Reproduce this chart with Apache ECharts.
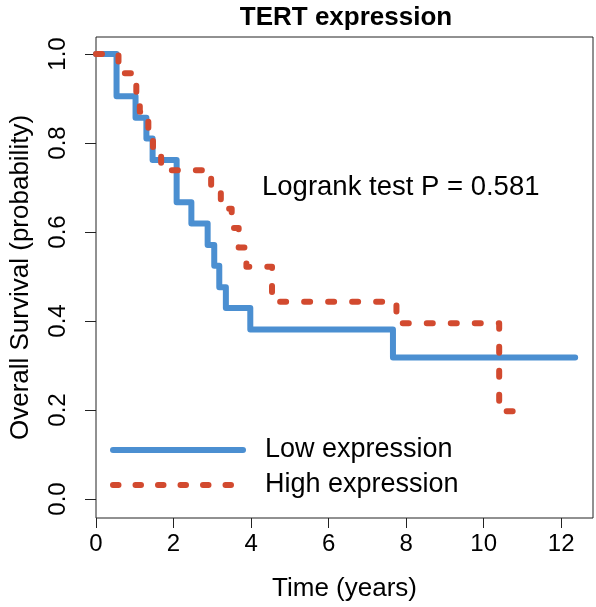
<!DOCTYPE html>
<html>
<head>
<meta charset="utf-8">
<script src="https://cdn.jsdelivr.net/npm/echarts@6/dist/echarts.min.js"></script>
<style>
html,body{margin:0;padding:0;background:#fff;}
#chart{width:596px;height:607px;}
</style>
</head>
<body>
<div id="chart"></div>
<script>
// Data (Kaplan-Meier step points: time in years, survival probability)
const lowTimes = [0, 0.53, 1.02, 1.30, 1.46, 2.08, 2.46, 2.88, 3.05, 3.18, 3.35, 3.98, 7.66, 12.36];
const lowSurv  = [1.0, 0.905, 0.857, 0.810, 0.762, 0.667, 0.619, 0.571, 0.524, 0.476, 0.429, 0.381, 0.318, 0.318];
const highTimes = [0, 0.58, 1.04, 1.13, 1.35, 1.47, 1.68, 2.97, 3.22, 3.50, 3.68, 3.88, 4.54, 7.75, 10.40, 11.20];
const highSurv  = [1.0, 0.957, 0.913, 0.870, 0.826, 0.783, 0.739, 0.696, 0.652, 0.609, 0.565, 0.522, 0.443, 0.395, 0.197, 0.197];
const xTicks = [0, 2, 4, 6, 8, 10, 12];
const yTicks = [0.0, 0.2, 0.4, 0.6, 0.8, 1.0];
const seriesNames = ['Low expression', 'High expression'];
const chartTitle = 'TERT expression';
const pValueText = 'Logrank test P = 0.581';
const xTitle = 'Time (years)';
const yTitle = 'Overall Survival (probability)';

const pair = (ts, ss) => ts.map((t, i) => [t, ss[i]]);
const FONT = 'Liberation Sans, Arial, Helvetica, sans-serif';
const BLUE = '#4b8fd1';
const RED = '#d24a2f';
const DASH = [6, 18];
const LEGEND_DASH = [5.5, 17];

const chart = echarts.init(document.getElementById('chart'), null, {renderer: 'canvas'});
chart.setOption({
  animation: false,
  backgroundColor: '#ffffff',
  title: {
    text: chartTitle,
    left: 341, top: 0,
    textAlign: 'center',
    textStyle: {fontFamily: FONT, fontSize: 26, fontWeight: 'bold', color: '#000'}
  },
  grid: {
    left: 88, right: 3, top: 37, bottom: 89,
    show: true, borderColor: '#222', borderWidth: 1, backgroundColor: 'transparent'
  },
  legend: {
    orient: 'vertical',
    left: 105, top: 430,
    itemWidth: 130, itemHeight: 14, itemGap: 5,
    data: [
      {name: seriesNames[0], lineStyle: {width: 6, type: 'solid', cap: 'round', color: BLUE}},
      {name: seriesNames[1], lineStyle: {width: 6, type: LEGEND_DASH, cap: 'round', color: RED}}
    ],
    itemStyle: {color: 'transparent', borderColor: 'transparent', borderWidth: 0, opacity: 0},
    lineStyle: {width: 6, cap: 'round'},
    textStyle: {fontFamily: FONT, fontSize: 27, color: '#000', padding: [0, 0, 0, 17], lineHeight: 30}
  },
  graphic: [{
    type: 'text',
    left: 262, top: 173,
    style: {text: pValueText, font: '27.5px ' + FONT, fill: '#000'}
  }],
  xAxis: {
    type: 'value', min: 0, max: 12.82,
    name: xTitle, nameLocation: 'middle', nameGap: 58,
    nameTextStyle: {fontFamily: FONT, fontSize: 26, color: '#000'},
    splitLine: {show: false},
    axisLine: {show: false, onZero: false},
    axisTick: {show: true, length: 10, customValues: xTicks, lineStyle: {color: '#222'}},
    axisLabel: {customValues: xTicks, margin: 14, fontFamily: FONT, fontSize: 24, color: '#000',
      formatter: v => String(Math.round(v))}
  },
  yAxis: {
    type: 'value', min: -0.0427, max: 1.0382,
    name: yTitle, nameLocation: 'middle', nameGap: 62, nameRotate: 90,
    nameTextStyle: {fontFamily: FONT, fontSize: 26, color: '#000'},
    splitLine: {show: false},
    axisLine: {show: false, onZero: false},
    axisTick: {show: true, length: 11, customValues: yTicks, lineStyle: {color: '#222'}},
    axisLabel: {customValues: yTicks, margin: 26, rotate: 90, fontFamily: FONT, fontSize: 24, color: '#000',
      formatter: v => v.toFixed(1)}
  },
  series: [{
    name: seriesNames[0], type: 'line', step: 'end', showSymbol: false, symbol: 'none',
    data: pair(lowTimes, lowSurv),
    itemStyle: {color: BLUE},
    lineStyle: {color: BLUE, width: 6, cap: 'round', join: 'round'},
    z: 2
  }, {
    name: seriesNames[1], type: 'line', step: 'end', showSymbol: false, symbol: 'none',
    data: pair(highTimes, highSurv),
    itemStyle: {color: RED},
    lineStyle: {color: RED, width: 6, type: DASH, cap: 'round', join: 'round'},
    z: 3
  }]
});
</script>
</body>
</html>
